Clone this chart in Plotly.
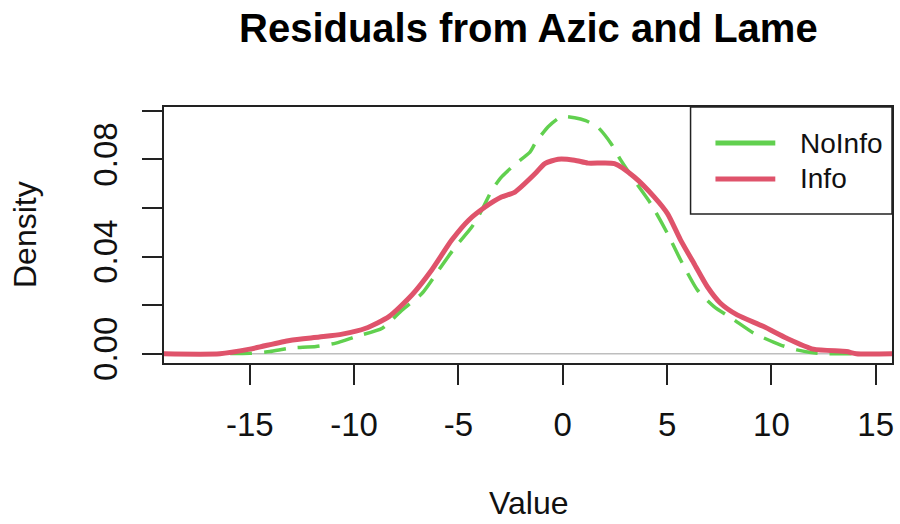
import plotly.graph_objects as go

# ---- data ----
noinfo_x = [-19.2, -17.8, -15.0, -14.04, -13.09, -11.82, -10.87, -9.91, -8.65, -7.69, -6.74,
            -5.94, -5.15, -4.36, -3.88, -3.40, -2.93, -2.29, -1.57, -1.33, -0.70, -0.07,
            0.57, 1.10, 1.68, 2.32, 2.79, 3.43, 4.22, 5.02, 5.65, 6.45, 7.25, 8.20, 9.15,
            10.42, 11.22, 12.2, 14.5]
noinfo_y = [0.0, 0.0, 0.0002, 0.0009, 0.0023, 0.0030, 0.0044, 0.0071, 0.0105, 0.0181, 0.0249,
            0.0345, 0.0440, 0.0522, 0.0591, 0.0673, 0.0728, 0.0780, 0.0830, 0.0865, 0.0935, 0.0976,
            0.0972, 0.0960, 0.0933, 0.0865, 0.0796, 0.0714, 0.0618, 0.0495, 0.0386, 0.0263, 0.0194,
            0.0140, 0.0085, 0.0037, 0.0016, 0.0002, 0.0]

info_x = [-19.3, -16.43, -15.0, -13.09, -11.66, -10.57, -9.44, -8.33, -7.23, -6.28, -5.32,
          -4.51, -3.72, -2.94, -2.29, -1.33, -0.86, -0.22, 0.57, 1.21, 2.48, 3.43, 4.39,
          5.02, 5.65, 6.29, 6.93, 7.56, 8.36, 9.63, 10.74, 12.01, 13.6, 14.07, 16.0]
info_y = [0.0, 0.0, 0.0019, 0.0055, 0.0069, 0.0081, 0.0105, 0.0153, 0.0242, 0.0345, 0.0468,
          0.0550, 0.0604, 0.0645, 0.0666, 0.0741, 0.0783, 0.0801, 0.0797, 0.0785, 0.0783, 0.0728,
          0.0645, 0.0577, 0.0468, 0.0372, 0.0276, 0.0208, 0.0160, 0.0112, 0.0064, 0.0019, 0.0009,
          0.0, 0.0]

x_ticks = [-15, -10, -5, 0, 5, 10, 15]
x_ticktext = ["-15", "-10", "-5", "0", "5", "10", "15"]
y_ticks = [0.0, 0.02, 0.04, 0.06, 0.08, 0.10]
y_ticktext = ["0.00", "", "0.04", "", "0.08", ""]
series_names = ["NoInfo", "Info"]

GREEN = "#61D04F"
RED = "#DF536B"
FONT = "Liberation Sans, Arial, sans-serif"

fig = go.Figure()
fig.add_trace(go.Scatter(x=noinfo_x, y=noinfo_y, mode="lines", name=series_names[0],
                         line=dict(color=GREEN, width=3.5, dash="22px,12px",
                                   shape="spline", smoothing=0.6)))
fig.add_trace(go.Scatter(x=info_x, y=info_y, mode="lines", name=series_names[1],
                         line=dict(color=RED, width=5, shape="spline", smoothing=0.6)))

axis_common = dict(showgrid=False, zeroline=False, showline=True, linecolor="#222",
                   linewidth=1.5, mirror=True, ticks="outside", ticklen=20, tickwidth=1.5,
                   tickcolor="#222", tickfont=dict(family=FONT, size=33, color="#111"))

fig.update_layout(
    width=900, height=524,
    margin=dict(l=164, r=6, t=107, b=161),
    paper_bgcolor="white", plot_bgcolor="white",
    showlegend=False,
    xaxis=dict(range=[-19.11, 15.78], tickvals=x_ticks, ticktext=x_ticktext,
               ticklabelstandoff=12, **axis_common),
    yaxis=dict(range=[-0.0038, 0.1016], tickvals=y_ticks, ticktext=y_ticktext,
               tickangle=-90, ticklabelstandoff=12, **axis_common),
)

# zero reference line
fig.add_shape(type="line", xref="paper", yref="y", x0=0, x1=1, y0=0, y1=0,
              line=dict(color="#BEBEBE", width=1.5), layer="below")

# title and axis titles
fig.add_annotation(text="<b>Residuals from Azic and Lame</b>", xref="paper", yref="paper",
                   x=0.5, y=1.0, yshift=79, showarrow=False, xanchor="center", yanchor="middle",
                   font=dict(family=FONT, size=40, color="black"))
fig.add_annotation(text="Value", xref="paper", yref="paper", x=0.5, y=0, yshift=-140,
                   showarrow=False, xanchor="center", yanchor="middle",
                   font=dict(family=FONT, size=32, color="#111"))
fig.add_annotation(text="Density", xref="paper", yref="paper", x=0, xshift=-139, y=0.5,
                   textangle=-90, showarrow=False, xanchor="center", yanchor="middle",
                   font=dict(family=FONT, size=32, color="#111"))

# legend box
fig.add_shape(type="rect", xref="paper", yref="paper", x0=0.7233, x1=1.0, y0=0.582, y1=1.0,
              line=dict(color="#222", width=1.5), fillcolor="white", layer="above")
for name, col, ly in [(series_names[0], GREEN, 0.859), (series_names[1], RED, 0.719)]:
    fig.add_shape(type="line", xref="paper", yref="paper", x0=0.7575, x1=0.8397, y0=ly, y1=ly,
                  line=dict(color=col, width=5), layer="above")
    fig.add_annotation(text=name, xref="paper", yref="paper", x=0.8712, y=ly, showarrow=False,
                       xanchor="left", yanchor="middle",
                       font=dict(family=FONT, size=28, color="#111"))

fig.write_html("out.html")
